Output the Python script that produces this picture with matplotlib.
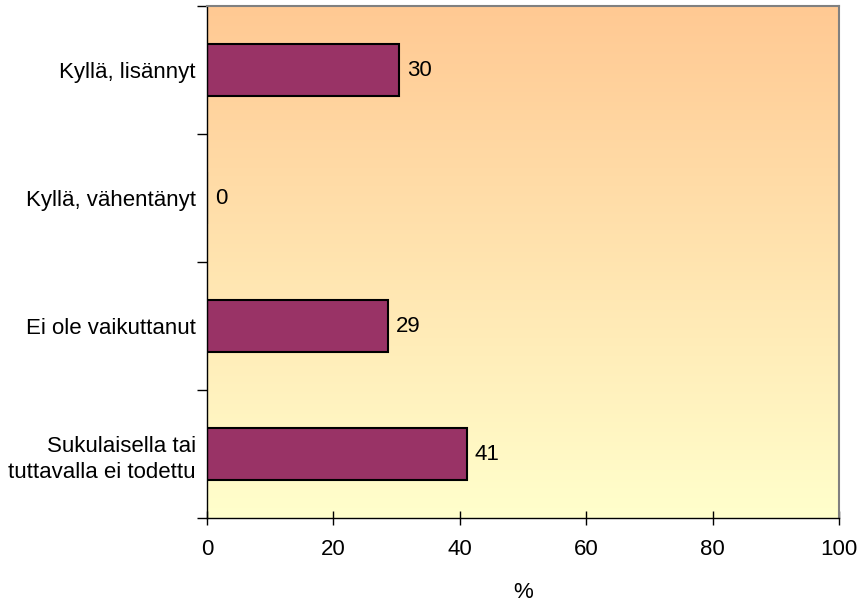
import numpy as np
import matplotlib.pyplot as plt
from matplotlib.colors import LinearSegmentedColormap

plt.rcParams['font.family'] = ['Liberation Sans', 'DejaVu Sans']

# data
categories = ['Kyllä, lisännyt', 'Kyllä, vähentänyt', 'Ei ole vaikuttanut',
              'Sukulaisella tai\ntuttavalla ei todettu']
values = [30.4, 0.0, 28.6, 41.1]
labels = ['30', '0', '29', '41']
xticks = [0, 20, 40, 60, 80, 100]

fs = 16

fig = plt.figure(figsize=(8.61, 6.08), dpi=100)
ax = fig.add_axes([0.2404, 0.148, 0.7341, 0.842])

# gradient background orange -> light yellow
cmap = LinearSegmentedColormap.from_list('bg', ['#FFC993', '#FFFFCC'])
grad = np.linspace(0, 1, 256).reshape(-1, 1)
ax.imshow(grad, cmap=cmap, aspect='auto', extent=[0, 100, 3.5, -0.5], zorder=0)

pos = np.arange(len(categories))
ax.barh(pos, values, height=0.41, color='#993366', edgecolor='black', linewidth=1.5, zorder=2)
for p, v, t in zip(pos, values, labels):
    ax.text(v + 1.3, p, t, va='center', ha='left', fontsize=fs, zorder=3)

ax.set_xlim(0, 100)
ax.set_ylim(3.5, -0.5)
ax.set_xticks(xticks)
ax.set_yticks(pos)
ax.set_yticklabels(categories, fontsize=fs, linespacing=1.35)
ax.tick_params(axis='y', length=0, pad=8)
ax.set_yticks([-0.5, 0.5, 1.5, 2.5, 3.5], minor=True)
ax.tick_params(axis='y', which='minor', length=7, width=1, direction='out')
ax.tick_params(axis='x', length=10, width=1, direction='inout', labelsize=fs, pad=10)
ax.set_xlabel('%', fontsize=fs, labelpad=16)

for s in ['top', 'right']:
    ax.spines[s].set_color('#808080')
    ax.spines[s].set_linewidth(1.5)
for s in ['left', 'bottom']:
    ax.spines[s].set_color('black')
    ax.spines[s].set_linewidth(1)

fig.savefig('out.png', dpi=100)
